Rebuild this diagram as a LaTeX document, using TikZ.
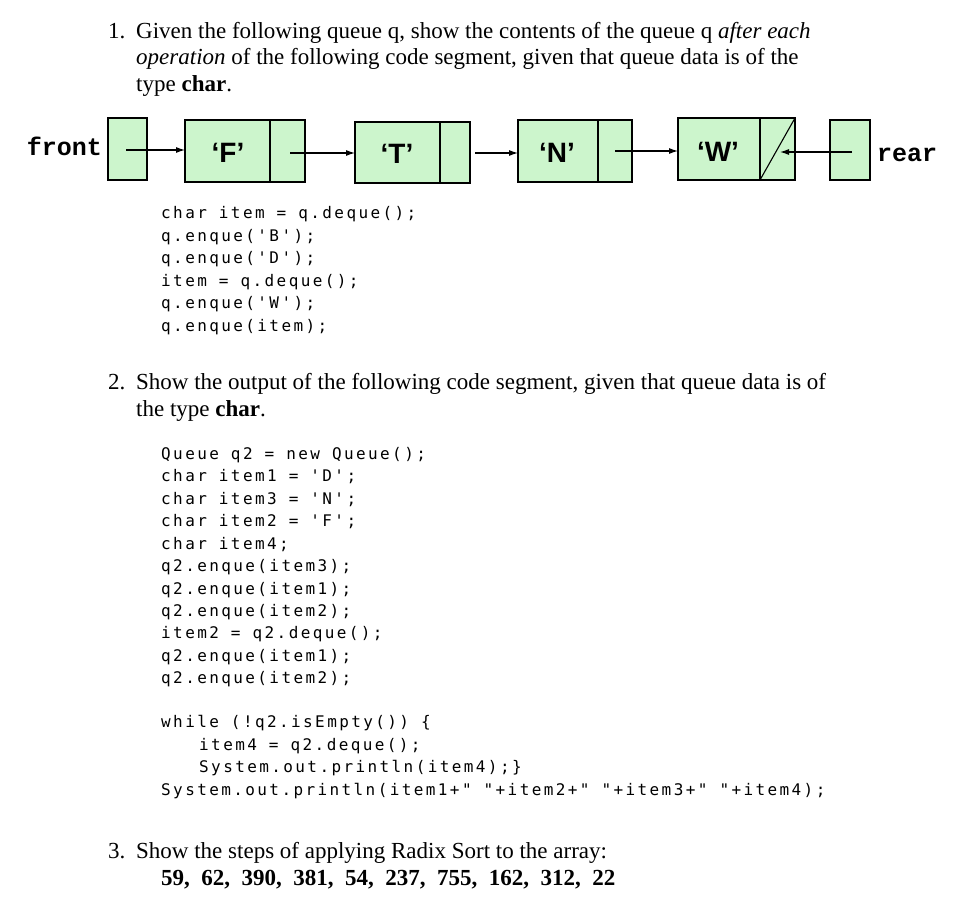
\documentclass[tikz,border=0pt]{standalone}
\usepackage{fontspec}
\setmainfont{Liberation Serif}
\newfontfamily\codef[LetterSpace=15]{DejaVu Sans Mono}
\newfontfamily\labf{Liberation Mono}
\newfontfamily\boxf{Liberation Sans}
\definecolor{cellg}{HTML}{CCF5CC}
\tikzset{x=1pt,y=-1pt,
 txt/.style={anchor=base west,inner sep=0,font=\fontsize{23}{27}\selectfont},
 code/.style={anchor=base west,inner sep=0,font=\codef\fontsize{16}{20}\selectfont},
 cell/.style={draw,fill=cellg,line width=1.1pt},
 lab/.style={inner sep=0,font=\boxf\bfseries\fontsize{28}{32}\selectfont},
 arr/.style={-{Latex[length=9pt,width=6pt]},line width=1.1pt}}
\usetikzlibrary{arrows.meta}
\begin{document}
\begin{tikzpicture}
\fill[white] (0,0) rectangle (974,910);
\node[txt] (n1) at (108,38) {1.};
\node[txt] (l1a) at (136,38) {Given the following queue q, show the contents of the queue q \textit{after each}};
\node[txt] (l1b) at (136,64) {\textit{operation} of the following code segment, given that queue data is of the};
\node[txt] (l1c) at (136,91) {type \textbf{char}.};
% list
\draw[cell] (108,118) rectangle (147,180);
\draw[cell] (185,120) rectangle (305,182); \draw[line width=1.1pt] (270,120) -- (270,182);
\draw[cell] (355,122) rectangle (470,183); \draw[line width=1.1pt] (440,122) -- (440,183);
\draw[cell] (518,120) rectangle (632,182); \draw[line width=1.1pt] (598,120) -- (598,182);
\draw[cell] (678,118) rectangle (795,180); \draw[line width=1.1pt] (760,118) -- (760,180); \draw[line width=1.1pt] (760,180) -- (795,118);
\draw[cell] (830,120) rectangle (870,180);
\node[lab] (F) at (228,153) {‘F’};
\node[lab] (T) at (397,154) {‘T’};
\node[lab] (N) at (557,153) {‘N’};
\node[lab] (W) at (718,152) {‘W’};
\node[anchor=base east,inner sep=0,font=\labf\bfseries\fontsize{25}{28}\selectfont] (front) at (102,155) {front};
\node[anchor=base west,inner sep=0,font=\labf\bfseries\fontsize{25}{28}\selectfont] (rear) at (877,161) {rear};
\coordinate (a1) at (126,150); \coordinate (a1e) at (185,150);
\coordinate (a2) at (290,153); \coordinate (a2e) at (355,153);
\coordinate (a3) at (475,153); \coordinate (a3e) at (518,153);
\coordinate (a4) at (615,151); \coordinate (a4e) at (678,151);
\coordinate (a5) at (852,152); \coordinate (a5e) at (780,152);
\draw[arr] (a1) -- (a1e); \draw[arr] (a2) -- (a2e); \draw[arr] (a3) -- (a3e);
\draw[arr] (a4) -- (a4e); \draw[arr] (a5) -- (a5e);
% code 1
\node[code] (c1) at (161,218) {char item = q.deque();};
\node[code] (c2) at (161,241) {q.enque('B');};
\node[code] (c3) at (161,263) {q.enque('D');};
\node[code] (c4) at (161,286) {item = q.deque();};
\node[code] (c5) at (161,308) {q.enque('W');};
\node[code] (c6) at (161,331) {q.enque(item);};
% part 2
\node[txt] (n2) at (108,389) {2.};
\node[txt] (l2a) at (136,389) {Show the output of the following code segment, given that queue data is of};
\node[txt] (l2b) at (136,416) {the type \textbf{char}.};
\node[code] (d1) at (161,459) {Queue q2 = new Queue();};
\node[code] (d2) at (161,481) {char item1 = 'D';};
\node[code] (d3) at (161,504) {char item3 = 'N';};
\node[code] (d4) at (161,526) {char item2 = 'F';};
\node[code] (d5) at (161,549) {char item4;};
\node[code] (d6) at (161,571) {q2.enque(item3);};
\node[code] (d7) at (161,594) {q2.enque(item1);};
\node[code] (d8) at (161,616) {q2.enque(item2);};
\node[code] (d9) at (161,638) {item2 = q2.deque();};
\node[code] (d10) at (161,661) {q2.enque(item1);};
\node[code] (d11) at (161,683) {q2.enque(item2);};
\node[code] (e1) at (161,727) {while (!q2.isEmpty())  \{};
\node[code] (e2) at (199,750) {item4 = q2.deque();};
\node[code] (e3) at (199,772) {System.out.println(item4);\}};
\node[code] (e4) at (161,795) {System.out.println(item1+" "+item2+" "+item3+" "+item4);};
% part 3
\node[txt] (n3) at (108,858) {3.};
\node[txt] (l3a) at (136,858) {Show the steps of applying Radix Sort to the array:};
\node[txt] (l3b) at (161,885) {\textbf{59,\ \ 62,\ \ 390,\ \ 381,\ \ 54,\ \ 237,\ \ 755,\ \ 162,\ \ 312,\ \ 22}};
\end{tikzpicture}
\end{document}
